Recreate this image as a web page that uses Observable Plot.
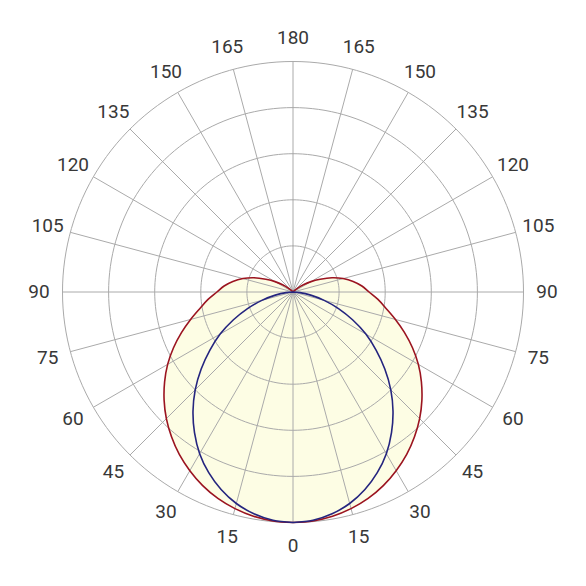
<!DOCTYPE html>
<html><head><meta charset="utf-8">
<script src="https://cdn.jsdelivr.net/npm/d3@7"></script>
<script src="https://cdn.jsdelivr.net/npm/@observablehq/plot@0.6"></script>
<style>body{margin:0;background:#fff} #chart svg{display:block}</style>
</head><body><div id="chart"></div>
<script>
// gamma angles (degrees from nadir) and relative intensities
const gammaAngles = [0,5,10,15,20,25,30,35,40,45,50,55,60,65,70,75,80,85,90,95,100,105,110,115,120,125,130,135,140,145,150,155,160,165,170,175,180];
const redIntensity = [1.0,0.997,0.988,0.973,0.953,0.927,0.895,0.86,0.82,0.777,0.73,0.68,0.628,0.572,0.515,0.46,0.41,0.37,0.33,0.30,0.265,0.225,0.18,0.13,0.09,0.055,0.025,0.005,0,0,0,0,0,0,0,0,0];
const blueIntensity = [1.0,0.994,0.977,0.95,0.912,0.865,0.81,0.745,0.675,0.6,0.52,0.44,0.365,0.285,0.21,0.14,0.078,0.03,0,0,0,0,0,0,0,0,0,0,0,0,0,0,0,0,0,0,0];
const ringValues = [0.2,0.4,0.6,0.8,1.0];
const spokeAngles = [0,15,30,45,60,75,90,105,120,135,150,165,180,195,210,225,240,255,270,285,300,315,330,345];
const labelAngles = [0,15,30,45,60,75,90,105,120,135,150,165,180];
const labelTexts = ["0","15","30","45","60","75","90","105","120","135","150","165","180"];

const rad = d => d * Math.PI / 180;
// closed outline: right side 0..180 then left side 180..0
function outline(values) {
  const pts = [];
  gammaAngles.forEach((a, i) => pts.push({x: values[i] * Math.sin(rad(a)), y: -values[i] * Math.cos(rad(a))}));
  for (let i = gammaAngles.length - 1; i >= 0; i--) {
    const a = gammaAngles[i];
    pts.push({x: -values[i] * Math.sin(rad(a)), y: -values[i] * Math.cos(rad(a))});
  }
  return pts;
}
const redPts = outline(redIntensity);
const bluePts = outline(blueIntensity);

const ringPts = [];
ringValues.forEach(r => { for (let a = 0; a <= 360; a += 2) ringPts.push({ring: r, x: r * Math.sin(rad(a)), y: r * Math.cos(rad(a))}); });
const spokes = spokeAngles.map(a => ({x: Math.sin(rad(a)), y: -Math.cos(rad(a))}));
const labels = [];
labelAngles.forEach((a, i) => {
  labels.push({x: -1.102 * Math.sin(rad(a)), y: -1.102 * Math.cos(rad(a)), t: labelTexts[i]});
  if (a !== 0 && a !== 180) labels.push({x: 1.102 * Math.sin(rad(a)), y: -1.102 * Math.cos(rad(a)), t: labelTexts[i]});
});

const R = 230.5, cx = 292.5, cy = 291.5;
const chart = Plot.plot({
  width: 586, height: 586,
  margin: 0,
  x: {domain: [-cx / R, (586 - cx) / R], axis: null},
  y: {domain: [-(586 - cy) / R, cy / R], axis: null},
  marks: [
    Plot.line(redPts, {x: "x", y: "y", curve: "catmull-rom", fill: "#fdfde4", stroke: "none"}),
    Plot.line(ringPts, {x: "x", y: "y", z: "ring", stroke: "#aaaaaa", strokeWidth: 1}),
    Plot.link(spokes, {x1: 0, y1: 0, x2: "x", y2: "y", stroke: "#aaaaaa", strokeWidth: 1}),
    Plot.line(redPts, {x: "x", y: "y", curve: "catmull-rom", stroke: "#9b1420", strokeWidth: 1.6}),
    Plot.line(bluePts, {x: "x", y: "y", curve: "catmull-rom", stroke: "#25257f", strokeWidth: 1.6}),
    Plot.text(labels, {x: "x", y: "y", text: "t", fontSize: 19, fill: "#383838", fontFamily: "Roboto", fontWeight: 400})
  ]
});
document.getElementById("chart").appendChild(chart);
</script>
</body></html>
